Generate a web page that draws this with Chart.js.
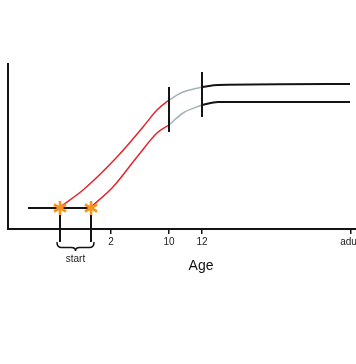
<!DOCTYPE html>
<html><head><meta charset="utf-8">
<script src="https://cdn.jsdelivr.net/npm/chart.js@4/dist/chart.umd.min.js"></script>
<style>html,body{margin:0;padding:0;background:#fff}</style>
</head><body>
<canvas id="c" width="356" height="364"></canvas>
<script>
// x in schematic position units, y in schematic height units
const tickPos = [103, 161, 194, 343];
const tickLabels = ['2', '10', '12', 'adult'];
const axisTitle = 'Age';
const axisTitleAt = 193;
const flatX = [20, 83];
const flatY = [21, 21];
const starX = [52, 83];
const starY = [21, 21];
const upperRedX = [52, 75, 109, 135, 149, 161];
const upperRedY = [22, 39, 72, 102, 119, 129];
const upperGrayX = [161, 175, 194];
const upperGrayY = [129, 137, 142];
const upperBlackX = [194, 210, 342];
const upperBlackY = [142, 144, 145];
const lowerRedX = [83, 105, 129, 149, 161];
const lowerRedY = [22, 42, 72, 96, 104];
const lowerGrayX = [161, 175, 194];
const lowerGrayY = [104, 116, 124];
const lowerBlackX = [194, 210, 342];
const lowerBlackY = [124, 127, 127];
const barX = [161, 194];
const barLow = [97, 112];
const barHigh = [142, 157];
const dropBottom = -13;
const braceLabel = 'start';

const pts = (xs, ys) => xs.map((x, i) => ({x, y: ys[i]}));
const RED = '#e5242b', GRAY = '#a3b3b5', BLACK = '#141414', ORANGE = '#f7941d';
const FONT = '"Liberation Sans", Arial, sans-serif';

// six-armed asterisk marker
const starImg = document.createElement('canvas');
starImg.width = 18; starImg.height = 18;
(() => {
  const g = starImg.getContext('2d');
  g.strokeStyle = ORANGE; g.lineWidth = 2.6; g.lineCap = 'butt';
  for (let k = 0; k < 3; k++) {
    const a = Math.PI / 2 + k * Math.PI / 3;
    g.beginPath();
    g.moveTo(9 + 7 * Math.cos(a), 9 + 7 * Math.sin(a));
    g.lineTo(9 - 7 * Math.cos(a), 9 - 7 * Math.sin(a));
    g.stroke();
  }
})();

const line = (data, color, w, extra) => Object.assign({
  type: 'line', data, borderColor: color, borderWidth: w, pointRadius: 0,
  cubicInterpolationMode: 'monotone', fill: false
}, extra || {});

const datasets = [
  {type: 'scatter', data: pts(starX, starY), pointStyle: starImg, pointRadius: 9, order: 0},
  line(pts(upperRedX, upperRedY), RED, 1.5, {order: 2}),
  line(pts(upperGrayX, upperGrayY), GRAY, 1.5, {order: 2}),
  line(pts(upperBlackX, upperBlackY), BLACK, 2, {order: 2}),
  line(pts(lowerRedX, lowerRedY), RED, 1.5, {order: 2}),
  line(pts(lowerGrayX, lowerGrayY), GRAY, 1.5, {order: 2}),
  line(pts(lowerBlackX, lowerBlackY), BLACK, 2, {order: 2}),
  line(pts(flatX, flatY), BLACK, 2, {order: 3}),
];
barX.forEach((x, i) => datasets.push(line([{x, y: barLow[i]}, {x, y: barHigh[i]}], BLACK, 2, {order: 1})));
starX.forEach(x => datasets.push(line([{x, y: starY[0]}, {x, y: dropBottom}], BLACK, 2, {order: 4, clip: false})));

const bracePlugin = {
  id: 'brace',
  afterDraw(chart) {
    const {ctx, scales: {x, y}} = chart;
    const x0 = x.getPixelForValue(starX[0]) - 3;
    const x1 = x.getPixelForValue(starX[1]) + 3;
    const top = y.getPixelForValue(dropBottom);
    const mid = (x0 + x1) / 2;
    const h = 9;
    ctx.save();
    ctx.strokeStyle = BLACK; ctx.lineWidth = 1.5;
    ctx.beginPath();
    ctx.moveTo(x0, top);
    ctx.quadraticCurveTo(x0, top + h * 0.6, x0 + 4, top + h * 0.6);
    ctx.lineTo(mid - 4, top + h * 0.6);
    ctx.quadraticCurveTo(mid, top + h * 0.6, mid, top + h);
    ctx.quadraticCurveTo(mid, top + h * 0.6, mid + 4, top + h * 0.6);
    ctx.lineTo(x1 - 4, top + h * 0.6);
    ctx.quadraticCurveTo(x1, top + h * 0.6, x1, top);
    ctx.stroke();
    ctx.fillStyle = '#222';
    ctx.font = '10px ' + FONT;
    ctx.textAlign = 'center'; ctx.textBaseline = 'middle';
    ctx.fillText(braceLabel, mid, top + h + 8);
    ctx.font = '14px ' + FONT;
    ctx.fillStyle = '#111';
    ctx.fillText(axisTitle, x.getPixelForValue(axisTitleAt), 266);
    ctx.restore();
  }
};

new Chart(document.getElementById('c'), {
  data: {datasets},
  plugins: [bracePlugin],
  options: {
    responsive: false, animation: false, devicePixelRatio: 1,
    layout: {autoPadding: false, padding: {left: 8, top: 64, right: 0, bottom: 85}},
    plugins: {legend: {display: false}, tooltip: {enabled: false}},
    scales: {
      x: {
        type: 'linear', min: 0, max: 348, offset: false,
        afterBuildTicks: s => { s.ticks = tickPos.map(v => ({value: v})); },
        afterFit: s => { s.height = 50; s.paddingLeft = 0; s.paddingRight = 0; },
        ticks: {
          autoSkip: false, maxRotation: 0, padding: 2, color: '#222',
          font: {family: FONT, size: 10},
          callback: v => tickLabels[tickPos.indexOf(v)]
        },
        grid: {drawOnChartArea: false, drawTicks: true, tickLength: 5, color: BLACK, lineWidth: 1.5},
        border: {color: BLACK, width: 2},
        title: {display: false}
      },
      y: {
        type: 'linear', min: 0, max: 165,
        afterFit: s => { s.width = 0; },
        ticks: {display: false},
        grid: {display: false},
        border: {color: BLACK, width: 2}
      }
    }
  }
});
</script>
</body></html>
